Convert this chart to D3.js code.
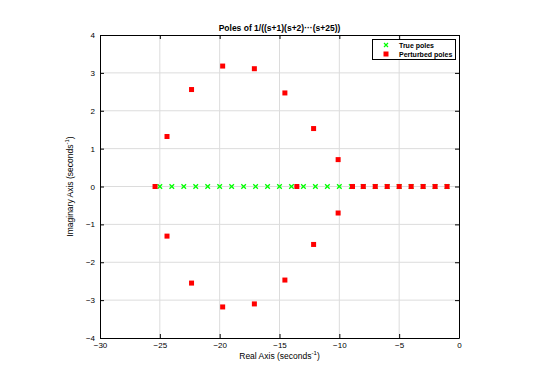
<!DOCTYPE html>
<html><head><meta charset="utf-8">
<script src="https://cdn.jsdelivr.net/npm/d3@7"></script>
<style>body{margin:0;background:#fff;} text{font-family:"Liberation Sans",Arial,Helvetica,sans-serif;}</style>
</head><body>
<svg id="c" width="545" height="385"></svg>
<script>
const trueRe = [-1,-2,-3,-4,-5,-6,-7,-8,-9,-10,-11,-12,-13,-14,-15,-16,-17,-18,-19,-20,-21,-22,-23,-24,-25];
const trueIm = trueRe.map(()=>0);
const pertRe = [-1,-2,-3,-4,-5,-6,-7,-8,-8.9,-10.1,-10.1,-12.15,-12.15,-13.55,-14.55,-14.55,-17.1,-17.1,-19.75,-19.75,-22.35,-22.35,-24.4,-24.4,-25.4];
const pertIm = [0,0,0,0,0,0,0,0,0,0.71,-0.70,1.53,-1.53,0,2.47,-2.47,3.11,-3.10,3.18,-3.18,2.56,-2.55,1.32,-1.31,0];
const xTicks = [-30,-25,-20,-15,-10,-5,0];
const yTicks = [-4,-3,-2,-1,0,1,2,3,4];
const legendLabels = ["True poles","Perturbed poles"];

const svg = d3.select("#c");
const L=100, R=459, T=35, B=338;
const x = d3.scaleLinear().domain([-30,0]).range([L,R]);
const y = d3.scaleLinear().domain([-4,4]).range([B,T]);

// grid
svg.append("g").selectAll("line").data(xTicks.slice(1,-1)).join("line")
  .attr("x1",d=>x(d)).attr("x2",d=>x(d)).attr("y1",T).attr("y2",B)
  .attr("stroke","#dcdcdc").attr("stroke-width",1);
svg.append("g").selectAll("line").data(yTicks.slice(1,-1)).join("line")
  .attr("y1",d=>y(d)).attr("y2",d=>y(d)).attr("x1",L).attr("x2",R)
  .attr("stroke","#dcdcdc").attr("stroke-width",1);

// axes
const fs = 8;
const xa = svg.append("g").attr("transform",`translate(0,${B})`).call(d3.axisBottom(x).tickValues(xTicks).tickSizeInner(-4).tickSizeOuter(0).tickPadding(4));
const xt = svg.append("g").attr("transform",`translate(0,${T})`).call(d3.axisTop(x).tickValues(xTicks).tickSizeInner(-4).tickSizeOuter(0).tickFormat(""));
const ya = svg.append("g").attr("transform",`translate(${L},0)`).call(d3.axisLeft(y).tickValues(yTicks).tickSizeInner(-4).tickSizeOuter(0).tickPadding(5));
const yr = svg.append("g").attr("transform",`translate(${R},0)`).call(d3.axisRight(y).tickValues(yTicks).tickSizeInner(-4).tickSizeOuter(0).tickFormat(""));
[xa,xt,ya,yr].forEach(g=>{
  g.select(".domain").attr("stroke","#000");
  g.selectAll(".tick line").attr("stroke","#000");
  g.selectAll("text").attr("font-size",fs).attr("fill","#000").style("font-family","Liberation Sans, Arial, sans-serif");
});

// true poles (green x)
const s=2.3;
const tp = trueRe.map((r,i)=>[r,trueIm[i]]);
svg.append("g").selectAll("path").data(tp).join("path")
  .attr("d",d=>{const cx=x(d[0]),cy=y(d[1]);return `M${cx-s},${cy-s}L${cx+s},${cy+s}M${cx-s},${cy+s}L${cx+s},${cy-s}`;})
  .attr("stroke","#00ff00").attr("stroke-width",1.3).attr("fill","none");

// perturbed poles (red squares)
const pp = pertRe.map((r,i)=>[r,pertIm[i]]);
svg.append("g").selectAll("rect").data(pp).join("rect")
  .attr("x",d=>x(d[0])-2.5).attr("y",d=>y(d[1])-2.5).attr("width",5).attr("height",5)
  .attr("fill","#ff0000");

// title & labels
svg.append("text").attr("x",(L+R)/2).attr("y",T-4).attr("text-anchor","middle")
  .attr("font-size",8.5).attr("font-weight","bold").text("Poles of 1/((s+1)(s+2)\u00b7\u00b7\u00b7(s+25))");
const xl = svg.append("text").attr("x",(L+R)/2).attr("y",B+21).attr("text-anchor","middle").attr("font-size",8.5);
xl.append("tspan").text("Real Axis (seconds");
xl.append("tspan").attr("font-size",6).attr("dy",-4).text("-1");
xl.append("tspan").attr("dy",4).text(")");
const yl = svg.append("text").attr("transform",`translate(${L-27},${(T+B)/2}) rotate(-90)`).attr("text-anchor","middle").attr("font-size",8.5);
yl.append("tspan").text("Imaginary Axis (seconds");
yl.append("tspan").attr("font-size",6).attr("dy",-4).text("-1");
yl.append("tspan").attr("dy",4).text(")");

// legend
const lg = svg.append("g");
lg.append("rect").attr("x",372.5).attr("y",39.5).attr("width",83).attr("height",20)
  .attr("fill","#fff").attr("stroke","#000").attr("stroke-width",1);
legendLabels.forEach((t,i)=>{
  const cy = 45 + i*9, cx = 386;
  if(i===0){
    lg.append("path").attr("d",`M${cx-2},${cy-2}L${cx+2},${cy+2}M${cx-2},${cy+2}L${cx+2},${cy-2}`)
      .attr("stroke","#00ff00").attr("stroke-width",1.2);
  } else {
    lg.append("rect").attr("x",cx-2.5).attr("y",cy-2.5).attr("width",5).attr("height",5).attr("fill","#ff0000");
  }
  lg.append("text").attr("x",399).attr("y",cy+2.5).attr("font-size",7).attr("font-weight","bold").text(t);
});
</script>
</body></html>
